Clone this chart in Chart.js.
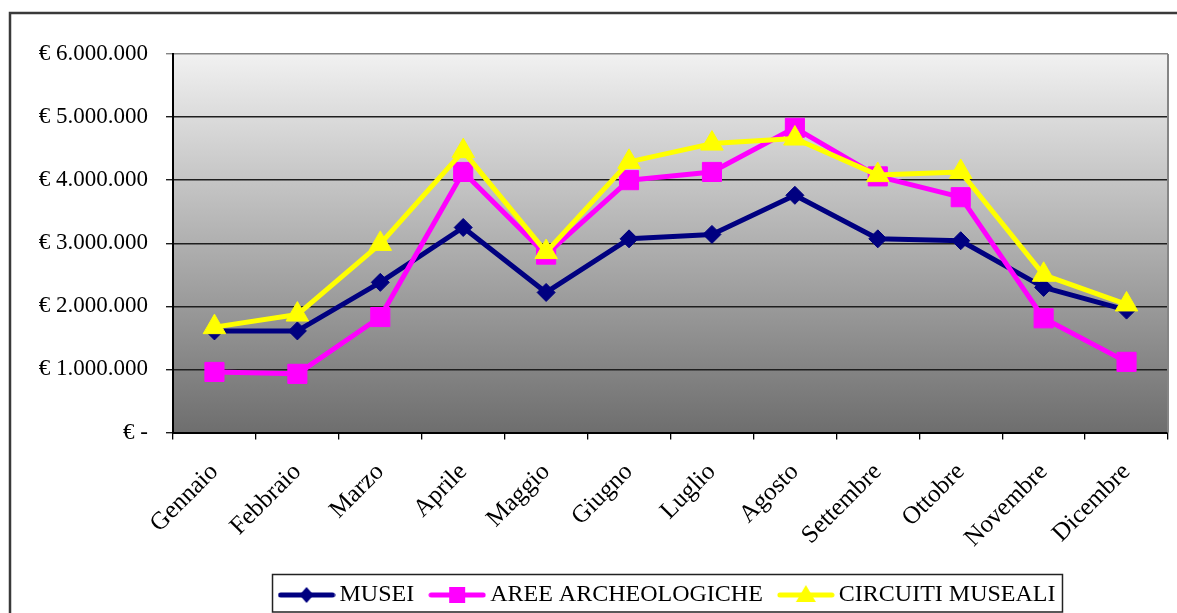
<!DOCTYPE html>
<html>
<head>
<meta charset="utf-8">
<script src="https://cdn.jsdelivr.net/npm/chart.js@4"></script>
<style>
  html, body { margin: 0; padding: 0; background: #fff; overflow: hidden; }
  #wrap { width: 1177px; height: 613px; }
</style>
</head>
<body>
<div id="wrap"><canvas id="myChart" width="1177" height="613"></canvas></div>
<script>
const months = ["Gennaio", "Febbraio", "Marzo", "Aprile", "Maggio", "Giugno",
  "Luglio", "Agosto", "Settembre", "Ottobre", "Novembre", "Dicembre"];

const musei = [1610000, 1610000, 2380000, 3250000, 2220000, 3070000,
  3140000, 3760000, 3070000, 3040000, 2300000, 1940000];
const aree = [960000, 930000, 1830000, 4130000, 2820000, 4000000,
  4130000, 4830000, 4060000, 3730000, 1810000, 1120000];
const circuiti = [1670000, 1870000, 2990000, 4460000, 2860000, 4290000,
  4580000, 4660000, 4080000, 4130000, 2500000, 2030000];

const yMax = 6000000;
const yStep = 1000000;

const serif = "'Liberation Serif', 'Times New Roman', serif";

// formato euro con punto come separatore delle migliaia
function euro(v) {
  if (v === 0) return "€ -";
  return "€ " + String(v).replace(/\B(?=(\d{3})+(?!\d))/g, ".");
}

// simbolo della legenda: linea + marcatore
function legendSymbol(color, shape) {
  const c = document.createElement("canvas");
  c.width = 58;
  c.height = 24;
  const g = c.getContext("2d");
  g.strokeStyle = color;
  g.fillStyle = color;
  g.lineWidth = 5;
  g.lineCap = "round";
  g.beginPath();
  g.moveTo(3, 12);
  g.lineTo(55, 12);
  g.stroke();
  g.beginPath();
  if (shape === "diamond") {
    g.moveTo(29, 4); g.lineTo(36, 12); g.lineTo(29, 20); g.lineTo(22, 12);
  } else if (shape === "square") {
    g.rect(21, 4, 16, 16);
  } else {
    g.moveTo(29, 2); g.lineTo(39, 19); g.lineTo(19, 19);
  }
  g.closePath();
  g.fill();
  return c;
}

const symbols = [
  legendSymbol("#000080", "diamond"),
  legendSymbol("#FF00FF", "square"),
  legendSymbol("#FFFF00", "triangle"),
];

const decorPlugin = {
  id: "decor",
  beforeDraw(chart) {
    const { ctx, chartArea: a } = chart;
    ctx.save();
    ctx.fillStyle = "#fff";
    ctx.fillRect(0, 0, chart.width, chart.height);
    // cornice esterna
    ctx.strokeStyle = "#3a3a3a";
    ctx.lineWidth = 2.5;
    ctx.beginPath();
    ctx.moveTo(10, chart.height + 5);
    ctx.lineTo(10, 13);
    ctx.lineTo(chart.width + 5, 13);
    ctx.stroke();
    // sfondo a gradiente dell'area del grafico
    const grad = ctx.createLinearGradient(0, a.top, 0, a.bottom);
    grad.addColorStop(0, "#f1f1f1");
    grad.addColorStop(1, "#6e6e6e");
    ctx.fillStyle = grad;
    ctx.fillRect(a.left, a.top, a.right - a.left, a.bottom - a.top);
    ctx.restore();
  },
  beforeDatasetsDraw(chart) {
    const { ctx, chartArea: a } = chart;
    ctx.save();
    ctx.strokeStyle = "#858585";
    ctx.lineWidth = 2;
    ctx.beginPath();
    ctx.moveTo(a.right, a.top);
    ctx.lineTo(a.right, a.bottom);
    ctx.stroke();
    ctx.restore();
  },
  afterDraw(chart) {
    const hb = chart.legend.legendHitBoxes;
    if (!hb || !hb.length) return;
    const first = hb[0];
    const last = hb[hb.length - 1];
    const cy = first.top + first.height / 2;
    const left = first.left - 13;
    const right = last.left + last.width + 7;
    const ctx = chart.ctx;
    ctx.save();
    ctx.strokeStyle = "#222";
    ctx.lineWidth = 1.5;
    ctx.strokeRect(left, cy - 20.5, right - left, 37.5);
    ctx.restore();
  },
};

function main() {
  const ctx = document.getElementById("myChart").getContext("2d");
  new Chart(ctx, {
    type: "line",
    data: {
      labels: months,
      datasets: [
        {
          label: "MUSEI",
          data: musei,
          borderColor: "#000080",
          backgroundColor: "#000080",
          borderWidth: 5,
          pointStyle: "rectRot",
          pointRadius: 9,
          pointBorderWidth: 1,
          order: 3,
        },
        {
          label: "AREE ARCHEOLOGICHE",
          data: aree,
          borderColor: "#FF00FF",
          backgroundColor: "#FF00FF",
          borderWidth: 5,
          pointStyle: "rect",
          pointRadius: 13.5,
          pointBorderWidth: 1,
          order: 2,
        },
        {
          label: "CIRCUITI MUSEALI",
          data: circuiti,
          borderColor: "#FFFF00",
          backgroundColor: "#FFFF00",
          borderWidth: 5,
          pointStyle: "triangle",
          pointRadius: 13,
          pointBorderWidth: 1,
          order: 1,
        },
      ],
    },
    options: {
      responsive: false,
      animation: false,
      events: [],
      elements: { line: { tension: 0, borderJoinStyle: "round" } },
      layout: { autoPadding: false, padding: { top: 54, left: 10, right: 9, bottom: -4 } },
      plugins: {
        tooltip: { enabled: false },
        legend: {
          position: "bottom",
          fullSize: false,
          labels: {
            usePointStyle: true,
            pointStyleWidth: 42,
            padding: 22,
            color: "#000",
            font: { family: serif, size: 24 },
            generateLabels(chart) {
              const items = Chart.defaults.plugins.legend.labels.generateLabels(chart);
              items.sort((p, q) => p.datasetIndex - q.datasetIndex);
              items.forEach((it) => { it.pointStyle = symbols[it.datasetIndex]; });
              return items;
            },
          },
        },
      },
      scales: {
        x: {
          offset: true,
          grid: {
            offset: true,
            drawOnChartArea: false,
            drawTicks: true,
            tickLength: 7,
            color: "#000",
            lineWidth: 1.3,
          },
          border: { color: "#000", width: 2 },
          ticks: {
            minRotation: 45,
            maxRotation: 45,
            autoSkip: false,
            padding: 18,
            color: "#000",
            font: { family: serif, size: 25 },
          },
          afterFit(scale) {
            scale.height = 128.5;
            scale.paddingLeft = 0;
            scale.paddingRight = 0;
          },
        },
        y: {
          min: 0,
          max: yMax,
          ticks: {
            stepSize: yStep,
            padding: 18,
            color: "#000",
            font: { family: serif, size: 23 },
            callback: (v) => euro(v),
          },
          grid: {
            color: (c) => (c.tick && c.tick.value === yMax ? "#858585" : "#1e1e1e"),
            lineWidth: 1.4,
            tickLength: 7,
            drawTicks: true,
          },
          border: { color: "#000", width: 2 },
          afterFit(scale) { scale.width = 163; },
        },
      },
    },
    plugins: [decorPlugin],
  });
}

document.addEventListener("DOMContentLoaded", main);
</script>
</body>
</html>
